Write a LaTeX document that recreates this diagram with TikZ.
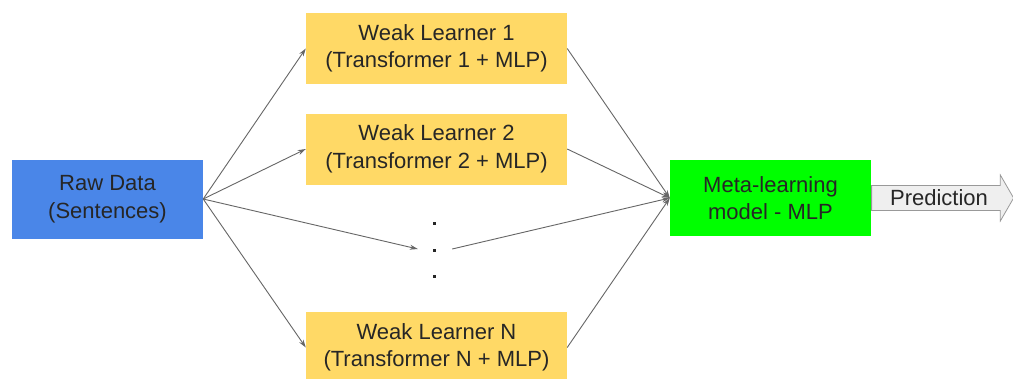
\documentclass[tikz,border=0pt]{standalone}
\usepackage{fontspec}
\setmainfont{Liberation Sans}
\usetikzlibrary{arrows.meta, shapes.arrows}
\definecolor{DataBlue}{HTML}{4A86E8}
\definecolor{LearnerYellow}{HTML}{FFD966}
\definecolor{MetaGreen}{HTML}{00FF00}
\definecolor{LineGray}{HTML}{666666}
\definecolor{EdgeGray}{HTML}{999999}
\definecolor{PaleGray}{HTML}{EFEFEF}

\begin{document}
\begin{tikzpicture}[x=1pt, y=-1pt, font=\fontsize{22}{27.5}\selectfont,
    box/.style={align=center, inner sep=0pt, text=black!85,
        execute at begin node={\rule{0pt}{21pt}}},
    link/.style={LineGray, line width=0.9pt, -{Stealth[length=8pt, width=5pt]}}]

\clip (0,0) rectangle (1013,378);
\fill[white] (0,0) rectangle (1013,378);

% entrada
\node[box, fill=DataBlue, minimum width=191, minimum height=79] (raw) at (107.5,199)
    {Raw Data\\(Sentences)};

% weak learners: nombre/y
\foreach \n/\y in {1/48.5, 2/149, N/347.5}{
    \node[box, fill=LearnerYellow, minimum width=261, minimum height=71] (wl\n) at (436.5,\y)
        {Weak Learner \n\\(Transformer \n{} + MLP)};
}

% puntos suspensivos
\node[minimum width=34, minimum height=10, inner sep=0pt] (gap) at (435,249) {};
\foreach \y in {223,250,276}{
    \fill[black!85] (432.5,\y-1.5) rectangle ++(3,3);
}

% meta modelo y salida
\node[box, fill=MetaGreen, minimum width=201, minimum height=76] (meta) at (770.5,198)
    {Meta-learning\\model - MLP};
\node[single arrow, draw=EdgeGray, fill=PaleGray, line width=0.8pt, text=black!85,
    inner xsep=0pt, inner ysep=4pt, minimum height=142, single arrow head extend=10.5pt,
    single arrow tip angle=120, anchor=tail] (pred) at (meta.east) {Prediction};

% conexiones
\foreach \t in {wl1, wl2, wlN}{
    \draw[link] (raw.east) -- (\t.west);
    \draw[link] (\t.east) -- (meta.west);
}
\draw[link] (raw.east) -- (gap.west);
\draw[link] (gap.east) -- (meta.west);

\end{tikzpicture}
\end{document}
